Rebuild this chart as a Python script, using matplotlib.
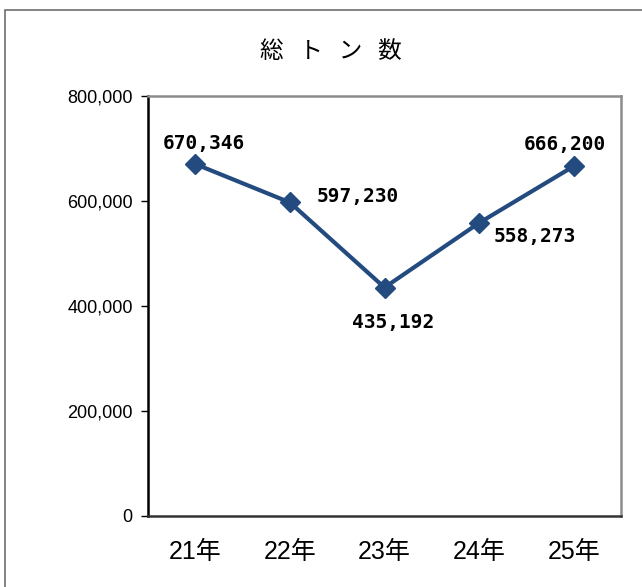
import matplotlib.pyplot as plt
from matplotlib.patches import Rectangle
from matplotlib.ticker import FuncFormatter

# data
years = ['21年', '22年', '23年', '24年', '25年']
tonnage = [670346, 597230, 435192, 558273, 666200]
label_offsets = [(6, 15), (49, 4), (6, -25), (40, -10), (-6, 16)]

plt.rcParams['font.family'] = ['Liberation Sans', 'Noto Sans CJK JP', 'DejaVu Sans']

fig = plt.figure(figsize=(6.42, 5.87), dpi=100)
W, H = 642, 587
ax = fig.add_axes([148 / W, 1 - 516 / H, (621 - 148) / W, (516 - 96) / H])

# outer chart frame (runs off the right and bottom edges)
fig.patches.append(Rectangle((5 / W, -0.2), 1.2, 1 - 10 / H + 0.2,
                             transform=fig.transFigure, fill=False,
                             edgecolor='#6e6e6e', linewidth=1.2))

x = range(len(years))
ax.plot(x, tonnage, color='#234b7f', linewidth=3, marker='D',
        markersize=10, zorder=3)

for i, (v, off) in enumerate(zip(tonnage, label_offsets)):
    ax.annotate(f'{v:,}', (i, v), xytext=off, textcoords='offset points',
                ha='center', va='center', fontsize=14, fontweight='bold',
                family='DejaVu Sans Mono')

ax.set_xlim(-0.5, 4.5)
ax.set_ylim(0, 800000)
ax.set_yticks([0, 200000, 400000, 600000, 800000])
ax.yaxis.set_major_formatter(FuncFormatter(lambda v, p: f'{int(v):,}'))
ax.set_xticks(list(x))
ax.set_xticklabels(years, fontsize=18, family=['Liberation Sans', 'Noto Sans CJK JP'])
ax.tick_params(axis='x', length=0, pad=17)
ax.tick_params(axis='y', length=5, width=1, labelsize=13, pad=6, direction='out')

ax.spines['left'].set_color('black')
ax.spines['bottom'].set_color('#333333')
ax.spines['top'].set_color('#8c8c8c')
ax.spines['right'].set_color('#8c8c8c')
for s in ax.spines.values():
    s.set_linewidth(1.8)

fig.text(331 / W, 1 - 52 / H, '総   ト   ン   数', ha='center', va='center',
         fontsize=17, family=['Noto Sans CJK JP'])

fig.savefig('out.png', dpi=100)
